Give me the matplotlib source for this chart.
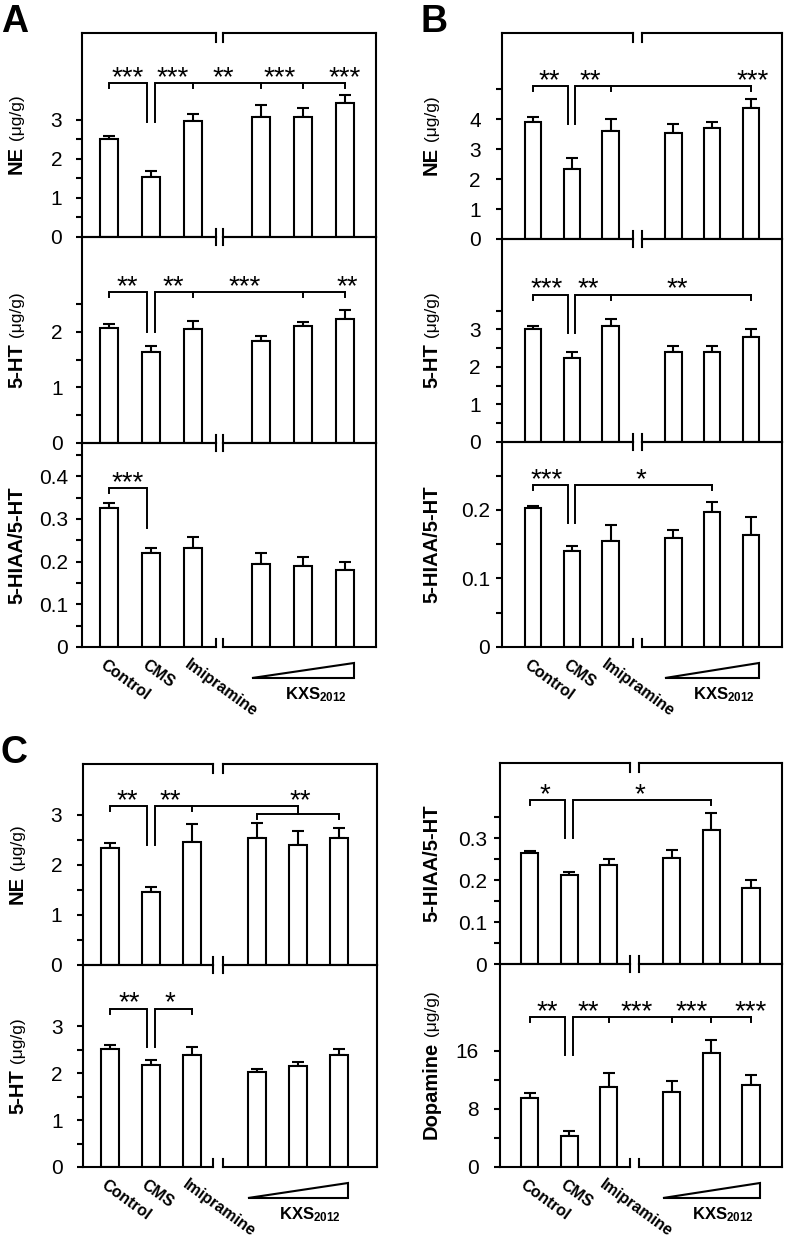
import matplotlib
matplotlib.use('Agg')
import matplotlib.pyplot as plt
from matplotlib.patches import Polygon
from matplotlib.ticker import FuncFormatter
import numpy as np

plt.rcParams['font.family'] = ['Liberation Sans', 'DejaVu Sans']
plt.rcParams['mathtext.fontset'] = 'custom'
plt.rcParams['mathtext.rm'] = 'Liberation Sans'
plt.rcParams['mathtext.bf'] = 'Liberation Sans:bold'
plt.rcParams['mathtext.it'] = 'Liberation Sans:italic'

# ---------------- data ----------------
groups = ["Control", "CMS", "Imipramine"]
dose_name = r"KXS$_{\mathbf{2012}}$"
xpos = [0, 1, 2, 3.6, 4.6, 5.6]

A_NE_mean = [2.51, 1.54, 2.97, 3.07, 3.07, 3.43]
A_NE_sem = [0.08, 0.15, 0.18, 0.31, 0.25, 0.21]
A_HT_mean = [2.07, 1.64, 2.05, 1.84, 2.10, 2.23]
A_HT_sem = [0.07, 0.11, 0.15, 0.09, 0.08, 0.17]
A_RA_mean = [0.325, 0.220, 0.232, 0.194, 0.190, 0.180]
A_RA_sem = [0.012, 0.012, 0.026, 0.026, 0.020, 0.019]

B_NE_mean = [3.90, 2.33, 3.60, 3.53, 3.70, 4.37]
B_NE_sem = [0.17, 0.37, 0.40, 0.30, 0.20, 0.30]
B_HT_mean = [3.02, 2.25, 3.08, 2.39, 2.39, 2.79]
B_HT_sem = [0.08, 0.14, 0.21, 0.16, 0.16, 0.21]
B_RA_mean = [0.203, 0.140, 0.155, 0.159, 0.197, 0.164]
B_RA_sem = [0.003, 0.007, 0.023, 0.012, 0.015, 0.026]

C_NE_mean = [2.33, 1.45, 2.45, 2.53, 2.39, 2.53]
C_NE_sem = [0.10, 0.10, 0.36, 0.30, 0.28, 0.20]
C_HT_mean = [2.51, 2.17, 2.40, 2.02, 2.15, 2.40]
C_HT_sem = [0.09, 0.11, 0.15, 0.08, 0.10, 0.11]
C_RA_mean = [0.264, 0.212, 0.236, 0.252, 0.319, 0.181]
C_RA_sem = [0.006, 0.007, 0.014, 0.019, 0.041, 0.019]
C_DA_mean = [9.5, 4.3, 11.0, 10.3, 15.7, 11.3]
C_DA_sem = [0.7, 0.6, 1.9, 1.5, 1.8, 1.3]

# significance: bracket level, CMS-end level, target bar indices, star labels
A_NE_sig = dict(level=3.95, cms_end=2.95, targets=[2, 3, 4, 5],
                stars=['***', '***', '**', '***', '***'], star_x=[0.45, 1.5, 2.71, 4.04, 5.58])
A_HT_sig = dict(level=2.72, cms_end=2.0, targets=[2, 4, 5],
                stars=['**', '**', '***', '**'], star_x=[0.43, 1.52, 3.23, 5.65])
A_RA_sig = dict(level=0.372, cms_end=0.279, targets=[],
                stars=['***'], star_x=[0.45])
B_NE_sig = dict(level=5.1, cms_end=3.83, targets=[2, 5],
                stars=['**', '**', '***'], star_x=[0.41, 1.47, 5.63])
B_HT_sig = dict(level=3.93, cms_end=2.9, targets=[2, 5],
                stars=['***', '**', '**'], star_x=[0.36, 1.41, 3.7])
B_RA_sig = dict(level=0.236, cms_end=0.181, targets=[4],
                stars=['***', '*'], star_x=[0.36, 2.78])
C_NE_sig = dict(level=3.17, cms_end=2.39, targets=[2, 4], sub=(3.01, 3, 5),
                stars=['**', '**', '**'], star_x=[0.42, 1.47, 4.65])
C_HT_sig = dict(level=3.38, cms_end=2.55, targets=[2],
                stars=['**', '*'], star_x=[0.46, 1.47])
C_RA_sig = dict(level=0.39, cms_end=0.30, targets=[4],
                stars=['*', '*'], star_x=[0.39, 2.79])
C_DA_sig = dict(level=20.6, cms_end=15.4, targets=[2, 3, 4, 5],
                stars=['**', '**', '***', '***', '***'], star_x=[0.44, 1.48, 2.72, 4.11, 5.58])

# ---------------- layout ----------------
W, H = 787, 1239
DPI = 100
fig = plt.figure(figsize=(W / DPI, H / DPI), dpi=DPI)
fig.patch.set_facecolor('white')


def pt(p):
    return p * 72.0 / DPI


BAR_W = 0.43
LW = 1.5
BLW = 1.4
UNIT = '(\u03bcg/g)'
STAR_FS = 20
TICK_FS = 15

panels = [
    dict(letter='A', letter_xy=(1, 32), x0=82, x1=376, c0=109, c5=345, brk=(216, 223), lab_x=22,
         rows=[
             dict(y0=33, y1=237, top=5.23, major=[0, 1, 2, 3], minor=[0.5, 1.5, 2.5],
                  mean=A_NE_mean, sem=A_NE_sem, lab=('NE', UNIT), pad=14, sig=A_NE_sig),
             dict(y0=237, y1=443, top=3.71, major=[0, 1, 2], minor=[0.5, 1.5, 2.5],
                  mean=A_HT_mean, sem=A_HT_sem, lab=('5-HT', UNIT), pad=13, sig=A_HT_sig),
             dict(y0=443, y1=647, top=0.478, major=[0, 0.1, 0.2, 0.3, 0.4],
                  minor=[0.05, 0.15, 0.25, 0.35, 0.45],
                  mean=A_RA_mean, sem=A_RA_sem, lab=('5-HIAA/5-HT', None), pad=8, sig=A_RA_sig),
         ]),
    dict(letter='B', letter_xy=(421, 32), x0=502, x1=782, c0=533, c5=751, brk=(633, 642), lab_x=437,
         rows=[
             dict(y0=33, y1=239, top=6.87, major=[0, 1, 2, 3, 4], minor=[5],
                  mean=B_NE_mean, sem=B_NE_sem, lab=('NE', UNIT), pad=15, sig=B_NE_sig),
             dict(y0=239, y1=442, top=5.41, major=[0, 1, 2, 3], minor=[0.5, 1.5, 2.5, 3.5],
                  mean=B_HT_mean, sem=B_HT_sem, lab=('5-HT', UNIT), pad=15, sig=B_HT_sig),
             dict(y0=442, y1=647, top=0.299, major=[0, 0.1, 0.2], minor=[0.05, 0.15, 0.25],
                  mean=B_RA_mean, sem=B_RA_sem, lab=('5-HIAA/5-HT', None), pad=6, sig=B_RA_sig),
         ]),
    dict(letter='C', letter_xy=(1, 763), x0=83, x1=377, c0=110, c5=339, brk=(213, 223), lab_x=23,
         rows=[
             dict(y0=764, y1=965, top=4.01, major=[0, 1, 2, 3], minor=[0.5, 1.5, 2.5],
                  mean=C_NE_mean, sem=C_NE_sem, lab=('NE', UNIT), pad=15, sig=C_NE_sig),
             dict(y0=965, y1=1167, top=4.31, major=[0, 1, 2, 3], minor=[0.5, 1.5, 2.5],
                  mean=C_HT_mean, sem=C_HT_sem, lab=('5-HT', UNIT), pad=14, sig=C_HT_sig),
         ]),
    dict(letter=None, letter_xy=None, x0=500, x1=782, c0=529.5, c5=751, brk=(630, 639), lab_x=437,
         rows=[
             dict(y0=763, y1=964, top=0.479, major=[0, 0.1, 0.2, 0.3], minor=[0.05, 0.15, 0.25, 0.35],
                  mean=C_RA_mean, sem=C_RA_sem, lab=('5-HIAA/5-HT', None), pad=7, sig=C_RA_sig),
             dict(y0=964, y1=1167, top=27.9, major=[0, 8, 16], minor=[4, 12],
                  mean=C_DA_mean, sem=C_DA_sem, lab=('Dopamine', UNIT), pad=15, sig=C_DA_sig),
         ]),
]


def fmt(v, pos=None):
    if abs(v) < 1e-12:
        return '0'
    return f'{v:g}'


def seg(ax, xs, ys, tr=None, lw=LW):
    kw = dict(color='black', lw=lw, clip_on=False, solid_capstyle='projecting',
              solid_joinstyle='miter')
    if tr is not None:
        kw['transform'] = tr
    ax.plot(xs, ys, **kw)


def draw_sig(ax, sig, top, hpx):
    k = top / hpx
    L = sig['level']
    E = sig['cms_end']
    dp = 5 * k
    d = 0.09
    seg(ax, [xpos[0], xpos[0], xpos[1] - d, xpos[1] - d], [L - dp, L, L, E], lw=BLW)
    sub = sig.get('sub')
    if sig['targets']:
        tmax = xpos[max(sig['targets'])]
        seg(ax, [xpos[1] + d, xpos[1] + d, tmax], [E, L, L], lw=BLW)
        for t in sig['targets']:
            bot = sub[0] if (sub is not None and t == 4) else L - dp
            seg(ax, [xpos[t], xpos[t]], [L, bot], lw=BLW)
    if sub is not None:
        lv, a, b = sub
        seg(ax, [xpos[a], xpos[a], xpos[b], xpos[b]], [lv - dp, lv, lv, lv - dp], lw=BLW)
    for s, sx in zip(sig['stars'], sig['star_x']):
        ax.annotate(s, xy=(sx, L), xytext=(0, -1.4), textcoords='offset points',
                    ha='center', va='baseline', fontsize=STAR_FS, annotation_clip=False)


label_jobs = []

for P in panels:
    u = (P['c5'] - P['c0']) / xpos[-1]
    xl = ((P['x0'] - P['c0']) / u, (P['x1'] - P['c0']) / u)
    brk = ((P['brk'][0] - P['c0']) / u, (P['brk'][1] - P['c0']) / u)
    nrows = len(P['rows'])
    for ri, R in enumerate(P['rows']):
        hpx = R['y1'] - R['y0']
        ax = fig.add_axes([P['x0'] / W, 1 - R['y1'] / H, (P['x1'] - P['x0']) / W, hpx / H])
        ax.set_facecolor('none')
        ax.set_xlim(*xl)
        ax.set_ylim(0, R['top'])
        ax.bar(xpos, R['mean'], width=BAR_W, color='white', edgecolor='black',
               linewidth=LW, zorder=2)
        ax.errorbar(xpos, R['mean'], yerr=[np.zeros(len(xpos)), R['sem']], fmt='none',
                    ecolor='black', elinewidth=LW, capsize=4.2, capthick=LW, zorder=1)
        for s in ['top', 'bottom']:
            ax.spines[s].set_visible(False)
        for s in ['left', 'right']:
            ax.spines[s].set_linewidth(LW)
        ax.set_xticks([])
        ax.set_yticks(R['major'])
        ax.set_yticks(R['minor'], minor=True)
        ax.yaxis.set_major_formatter(FuncFormatter(fmt))
        ax.tick_params(axis='y', which='both', direction='out', length=pt(6), width=LW,
                       labelsize=TICK_FS, pad=pt(R['pad']))
        tr = ax.get_xaxis_transform()
        f = 1.0 / hpx
        # top and bottom broken frame lines
        for yy in (0, 1):
            seg(ax, [xl[0], brk[0]], [yy, yy], tr)
            seg(ax, [brk[1], xl[1]], [yy, yy], tr)
        if ri == 0:
            for bx in brk:
                seg(ax, [bx, bx], [1, 1 - 9 * f], tr)
        if ri < nrows - 1:
            for bx in brk:
                seg(ax, [bx, bx], [8 * f, -8 * f], tr)
        else:
            for bx in brk:
                seg(ax, [bx, bx], [0, 8 * f], tr)
            # group labels
            for i, g in enumerate(groups):
                ax.annotate(g, xy=(xpos[i], 0), xycoords=tr, xytext=(pt(-3), pt(-10)),
                            textcoords='offset points', rotation=-36, rotation_mode='anchor',
                            ha='left', va='top', fontsize=11.5, fontweight='bold',
                            annotation_clip=False)
            # dose wedge
            xa = xpos[3] - BAR_W / 2
            xb = xpos[5] + BAR_W / 2
            wedge = Polygon([(xa, -31 * f), (xb, -31 * f), (xb, -16 * f)], closed=True,
                            facecolor='white', edgecolor='black', lw=LW, transform=tr,
                            clip_on=False, joinstyle='miter')
            ax.add_patch(wedge)
            ax.annotate(dose_name, xy=((xa + xb) / 2 + 0.3, 0), xycoords=tr,
                        xytext=(0, pt(-48)), textcoords='offset points', ha='center',
                        va='center', fontsize=12, fontweight='bold', annotation_clip=False)
        draw_sig(ax, R['sig'], R['top'], hpx)
        label_jobs.append((R['lab'], P['lab_x'], R['y0'], R['y1']))
    if P['letter']:
        fig.text(P['letter_xy'][0] / W, 1 - P['letter_xy'][1] / H, P['letter'],
                 fontsize=27, fontweight='bold', ha='left', va='baseline')

renderer = fig.canvas.get_renderer()
for (bold, unit), xb, y0, y1 in label_jobs:
    t1 = fig.text(0, 0, bold, fontsize=14.5, fontweight='bold', rotation=90,
                  rotation_mode='anchor', ha='left', va='baseline')
    h1 = t1.get_window_extent(renderer).height
    h2 = 0
    t2 = None
    if unit:
        t2 = fig.text(0, 0, ' ' + unit, fontsize=12.5, rotation=90,
                      rotation_mode='anchor', ha='left', va='baseline')
        h2 = t2.get_window_extent(renderer).height
    cy = (y0 + y1) / 2
    ystart = cy + (h1 + h2) / 2
    t1.set_position((xb / W, 1 - ystart / H))
    if t2 is not None:
        t2.set_position((xb / W, 1 - (ystart - h1) / H))

fig.savefig('out.png', dpi=DPI, facecolor='white')
